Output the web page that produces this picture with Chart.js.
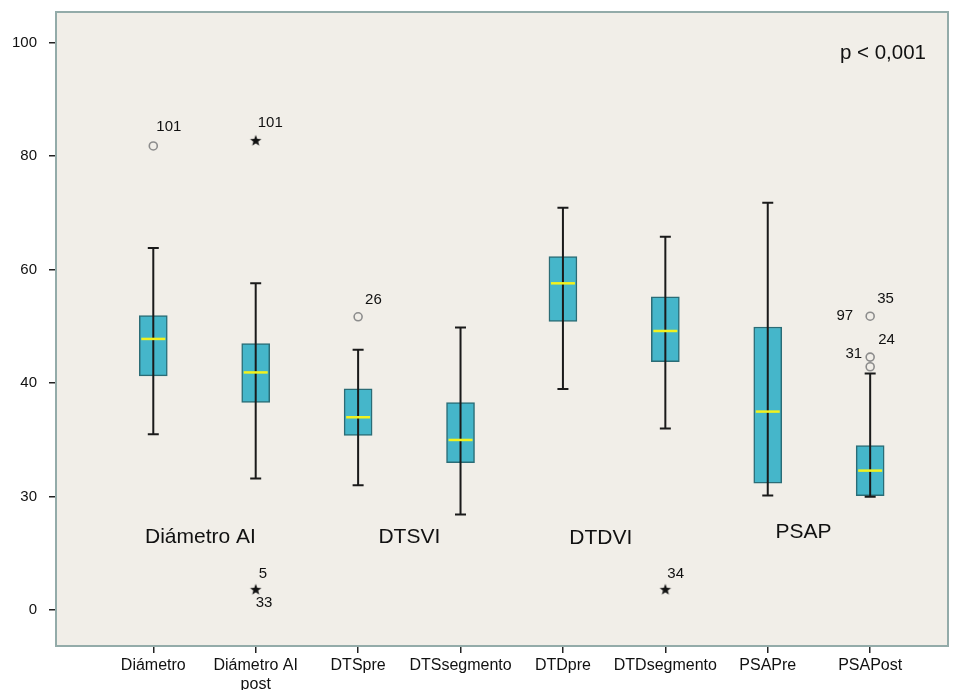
<!DOCTYPE html>
<html>
<head>
<meta charset="utf-8">
<script src="https://cdn.jsdelivr.net/npm/chart.js@4/dist/chart.umd.min.js"></script>
<style>
  html, body { margin: 0; padding: 0; background: #fff; }
  #wrap { width: 958px; height: 690px; }
</style>
</head>
<body>
<div id="wrap"><canvas id="c" width="958" height="690"></canvas></div>
<script>
// categories and box statistics (in axis units)
const categories = ["Diámetro", ["Diámetro AI", "post"], "DTSpre", "DTSsegmento", "DTDpre", "DTDsegmento", "PSAPre", "PSAPost"];
const whiskerLow = [35.5, 31.6, 31.0, 25.3, 39.5, 36.0, 30.1, 30.0];
const q1 = [41.3, 38.3, 35.4, 33.0, 50.9, 43.8, 31.2, 30.1];
const median = [47.8, 41.9, 37.0, 35.0, 57.6, 49.2, 37.5, 32.3];
const q3 = [51.9, 47.0, 39.5, 38.3, 62.3, 55.2, 49.9, 34.5];
const whiskerHigh = [63.8, 57.6, 45.9, 49.8, 70.9, 65.8, 71.8, 41.7];

// the y axis labels sit at equal spacing
const yTickLabels = [0, 30, 40, 60, 80, 100];

// outliers: circles (mild) and stars (extreme)
const circleX = [0, 2, 7, 7, 7];
const circleY = [81.8, 51.7, 51.8, 44.6, 42.9];
const starX = [1, 1, 5];
const starY = [82.7, 5.4, 5.4];

// case numbers next to outliers: [x, y, text, dx, dy, align]
const caseLabels = [
  [0, 81.8, "101", 3, -19, "left"],
  [1, 82.7, "101", 2, -18, "left"],
  [2, 51.7, "26", 7, -17, "left"],
  [7, 51.8, "97", -17, 0, "right"],
  [7, 51.8, "35", 7, -17, "left"],
  [7, 44.6, "31", -8, -3, "right"],
  [7, 44.6, "24", 8, -17, "left"],
  [1, 5.4, "5", 3, -16, "left"],
  [1, 5.4, "33", 0, 13, "left"],
  [5, 5.4, "34", 2, -16, "left"],
];

// group titles inside the plot: [x, y, text]
const groupLabels = [
  [0.46, 19.3, "Diámetro AI"],
  [2.5, 19.3, "DTSVI"],
  [4.37, 19.0, "DTDVI"],
  [6.35, 20.5, "PSAP"],
];
const pText = "p < 0,001";

// map a value onto the evenly spaced tick positions
function toPos(v) {
  const s = yTickLabels;
  for (let i = 0; i < s.length - 1; i++) {
    if (v <= s[i + 1] || i === s.length - 2) {
      return i + (v - s[i]) / (s[i + 1] - s[i]);
    }
  }
}

const FONT = "'Liberation Sans', Arial, sans-serif";

function makeStar(r) {
  const size = Math.ceil(r * 2 + 2);
  const cv = document.createElement("canvas");
  cv.width = size; cv.height = size;
  const g = cv.getContext("2d");
  const c = size / 2;
  g.beginPath();
  for (let k = 0; k < 10; k++) {
    const rad = k % 2 === 0 ? r : r * 0.42;
    const a = -Math.PI / 2 + (k * Math.PI) / 5;
    const px = c + rad * Math.cos(a), py = c + rad * Math.sin(a);
    k === 0 ? g.moveTo(px, py) : g.lineTo(px, py);
  }
  g.closePath();
  g.fillStyle = "#111";
  g.fill();
  return cv;
}

const boxPlugin = {
  id: "boxExtras",
  beforeDraw(chart) {
    const { ctx, chartArea: a } = chart;
    ctx.save();
    ctx.fillStyle = "#ffffff";
    ctx.fillRect(0, 0, chart.width, chart.height);
    ctx.fillStyle = "#f1eee8";
    ctx.fillRect(a.left, a.top, a.right - a.left, a.bottom - a.top);
    ctx.restore();
  },
  afterDatasetsDraw(chart) {
    const { ctx, chartArea: a } = chart;
    const xs = chart.scales.x, ys = chart.scales.y;
    const boxW = 28;
    ctx.save();
    categories.forEach((c, i) => {
      const x = xs.getPixelForValue(i);
      const yl = ys.getPixelForValue(toPos(whiskerLow[i]));
      const yh = ys.getPixelForValue(toPos(whiskerHigh[i]));
      ctx.strokeStyle = "#1a1a1a";
      ctx.lineWidth = 2;
      ctx.beginPath();
      ctx.moveTo(x, yl); ctx.lineTo(x, yh);
      ctx.moveTo(x - 5.5, yl); ctx.lineTo(x + 5.5, yl);
      ctx.moveTo(x - 5.5, yh); ctx.lineTo(x + 5.5, yh);
      ctx.stroke();
      const ym = ys.getPixelForValue(toPos(median[i]));
      ctx.strokeStyle = "#f2f21e";
      ctx.lineWidth = 2.5;
      ctx.beginPath();
      ctx.moveTo(x - boxW / 2 + 2, ym); ctx.lineTo(x + boxW / 2 - 2, ym);
      ctx.stroke();
    });
    // plot frame
    ctx.strokeStyle = "#93aba9";
    ctx.lineWidth = 2;
    ctx.strokeRect(a.left, a.top, a.right - a.left, a.bottom - a.top);
    ctx.restore();
  },
  afterDraw(chart) {
    const { ctx, chartArea: a } = chart;
    const xs = chart.scales.x, ys = chart.scales.y;
    ctx.save();
    ctx.fillStyle = "#111";
    ctx.textBaseline = "middle";
    ctx.font = "15px " + FONT;
    caseLabels.forEach(([x, y, t, dx, dy, al]) => {
      ctx.textAlign = al;
      ctx.fillText(t, xs.getPixelForValue(x) + dx, ys.getPixelForValue(toPos(y)) + dy);
    });
    ctx.font = "21px " + FONT;
    ctx.textAlign = "center";
    groupLabels.forEach(([x, y, t]) => {
      ctx.fillText(t, xs.getPixelForValue(x), ys.getPixelForValue(toPos(y)));
    });
    ctx.font = "20.5px " + FONT;
    ctx.textAlign = "right";
    ctx.fillText(pText, a.right - 22, a.top + 41);
    ctx.restore();
  },
};

new Chart(document.getElementById("c"), {
  type: "bar",
  data: {
    datasets: [
      {
        type: "bar",
        data: categories.map((c, i) => ({ x: i, y: [toPos(q1[i]), toPos(q3[i])] })),
        backgroundColor: "#45b6ca",
        borderColor: "#2b6c76",
        borderWidth: 1.5,
        borderSkipped: false,
        barThickness: 28,
        order: 2,
      },
      {
        type: "scatter",
        data: circleX.map((x, i) => ({ x, y: toPos(circleY[i]) })),
        pointStyle: "circle",
        pointRadius: 4,
        backgroundColor: "rgba(0,0,0,0)",
        borderColor: "#8c8c8c",
        borderWidth: 1.6,
        order: 1,
      },
      {
        type: "scatter",
        data: starX.map((x, i) => ({ x, y: toPos(starY[i]) })),
        pointStyle: makeStar(6),
        order: 1,
      },
    ],
  },
  options: {
    responsive: false,
    animation: false,
    layout: { padding: { top: 12, right: 10, left: 0, bottom: 0 } },
    plugins: { legend: { display: false }, tooltip: { enabled: false } },
    scales: {
      x: {
        type: "linear",
        offset: false,
        min: -0.95,
        max: 7.76,
        afterBuildTicks: (s) => { s.ticks = categories.map((c, i) => ({ value: i })); },
        afterFit: (s) => { s.height = 44; s.paddingLeft = 0; s.paddingRight = 0; },
        ticks: {
          autoSkip: false,
          maxRotation: 0,
          padding: 3,
          color: "#111",
          font: { family: FONT, size: 16 },
          callback: (v) => categories[v],
        },
        grid: { offset: false, drawOnChartArea: false, tickLength: 7, color: "#222", lineWidth: 1.5 },
        border: { display: false },
      },
      y: {
        type: "linear",
        min: -0.315,
        max: 5.27,
        afterBuildTicks: (s) => { s.ticks = yTickLabels.map((v, i) => ({ value: i })); },
        afterFit: (s) => { s.width = 56; s.paddingTop = 0; s.paddingBottom = 0; },
        ticks: {
          padding: 12,
          color: "#111",
          font: { family: FONT, size: 15 },
          callback: (v) => String(yTickLabels[v]),
        },
        grid: { drawOnChartArea: false, tickLength: 7, color: "#222", lineWidth: 1.5 },
        border: { display: false },
      },
    },
  },
  plugins: [boxPlugin],
});
</script>
</body>
</html>
